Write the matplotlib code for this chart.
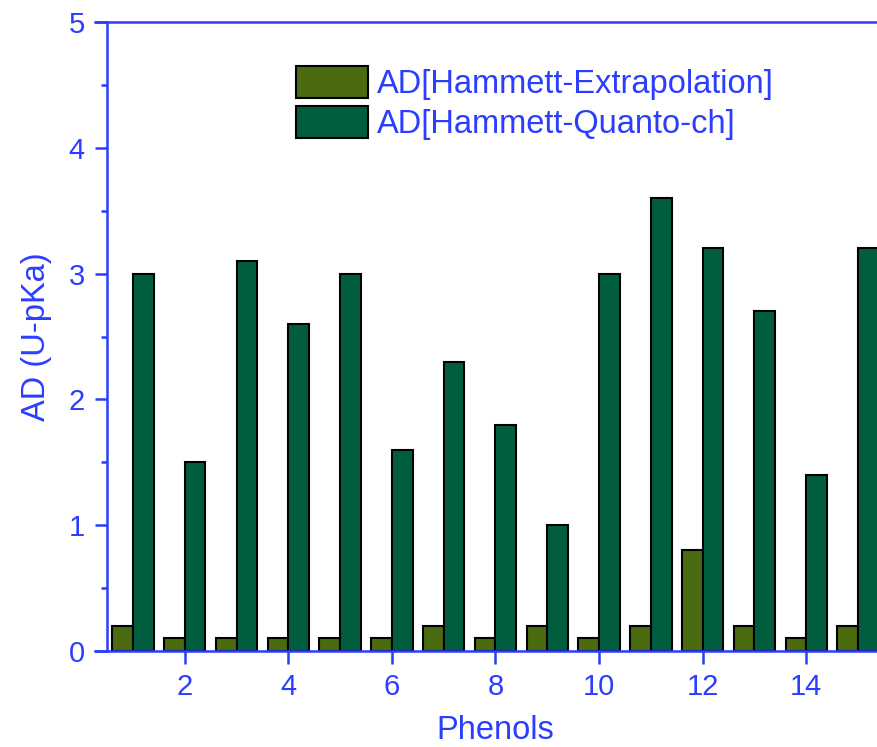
import numpy as np
import matplotlib
matplotlib.use("Agg")
import matplotlib.pyplot as plt
from matplotlib.ticker import MultipleLocator

# data
phenols = np.arange(1, 16)
ad_extrapolation = [0.2, 0.1, 0.1, 0.1, 0.1, 0.1, 0.2, 0.1, 0.2, 0.1, 0.2, 0.8, 0.2, 0.1, 0.2]
ad_quanto = [3.0, 1.5, 3.1, 2.6, 3.0, 1.6, 2.3, 1.8, 1.0, 3.0, 3.6, 3.2, 2.7, 1.4, 3.2]

BLUE = "#2B3DFF"
OLIVE = "#4A6B0F"
DKGREEN = "#005E3F"

plt.rcParams["font.family"] = ["Liberation Sans", "DejaVu Sans"]

fig = plt.figure(figsize=(8.78, 7.47), dpi=100)
ax = fig.add_axes([0.1219, 0.1285, 0.8849, 0.842])

w = 0.4
ax.bar(phenols - w / 2, ad_extrapolation, width=w, color=OLIVE, edgecolor="black",
       linewidth=1.5, label="AD[Hammett-Extrapolation]")
ax.bar(phenols + w / 2, ad_quanto, width=w, color=DKGREEN, edgecolor="black",
       linewidth=1.5, label="AD[Hammett-Quanto-ch]")

ax.set_xlim(0.5, 15.5)
ax.set_ylim(0, 5)
ax.xaxis.set_major_locator(MultipleLocator(2))
ax.yaxis.set_major_locator(MultipleLocator(1))
ax.yaxis.set_minor_locator(MultipleLocator(0.5))

for s in ax.spines.values():
    s.set_color(BLUE)
    s.set_linewidth(1.8)
ext = 12 / 51.8
ax.spines["bottom"].set_bounds(0.5 - ext, 15.5)
ax.spines["top"].set_bounds(0.5 - ext, 15.5)

ax.tick_params(axis="both", which="major", direction="out", length=9, width=1.8,
               color=BLUE, labelcolor=BLUE, labelsize=21)
ax.tick_params(axis="y", which="minor", direction="out", length=4.5, width=1.8, color=BLUE)
ax.tick_params(axis="x", which="major", pad=7)
ax.tick_params(axis="y", which="major", pad=7)

ax.set_xlabel("Phenols", color=BLUE, fontsize=23.5, labelpad=10)
ax.set_ylabel("AD (U-pKa)", color=BLUE, fontsize=23.5, labelpad=12)

leg = ax.legend(loc="upper left", bbox_to_anchor=(0.243, 0.93), borderaxespad=0,
                borderpad=0, frameon=False, fontsize=23.5, handlelength=2.2,
                handleheight=1.12, labelspacing=0.18, handletextpad=0.3)
for t in leg.get_texts():
    t.set_color(BLUE)

fig.savefig("out.png", dpi=100)
